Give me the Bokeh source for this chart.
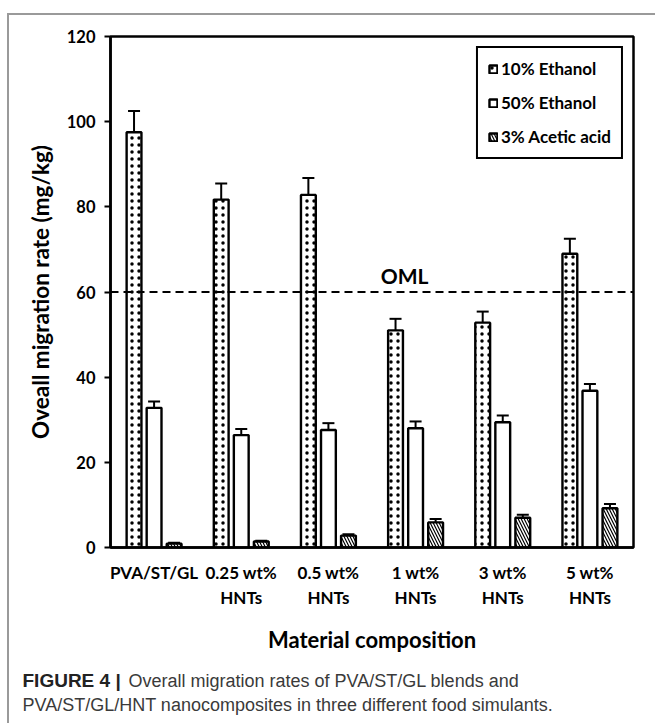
import numpy as np
from bokeh.plotting import figure
from bokeh.layouts import column, row
from bokeh.models import (ColumnDataSource, Range1d, FixedTicker, Whisker, TeeHead,
                          Span, Label, Legend, LegendItem, Div, Spacer)
from bokeh.core.properties import value
from bokeh.embed import file_html
from bokeh.resources import INLINE

# Overall migration (mg/kg) per material and food simulant
groups = ["PVA/ST/GL", "0.25 wt%\nHNTs", "0.5 wt%\nHNTs", "1 wt%\nHNTs", "3 wt%\nHNTs", "5 wt%\nHNTs"]
series = ["10% Ethanol", "50% Ethanol", "3% Acetic acid"]
ethanol10 = [97.5, 81.7, 82.8, 51.0, 52.8, 69.0]
ethanol10_err = [5.0, 3.8, 4.0, 2.7, 2.6, 3.5]
ethanol50 = [32.8, 26.4, 27.6, 28.0, 29.4, 36.8]
ethanol50_err = [1.5, 1.4, 1.6, 1.6, 1.6, 1.6]
acetic3 = [0.9, 1.4, 2.8, 5.9, 7.0, 9.2]
acetic3_err = [0.2, 0.2, 0.3, 0.8, 0.7, 1.0]
oml_limit = 60
y_ticks = [0, 20, 40, 60, 80, 100, 120]

caption_head = "FIGURE 4 |"
caption_line1 = "Overall migration rates of PVA/ST/GL blends and"
caption_line2 = "PVA/ST/GL/HNT nanocomposites in three different food simulants."

FONT = "Lato"
CAPTION_FONT = "Liberation Sans"
FRAME_GREY = "#9a9a9a"

# page layout (pixels)
W, H = 655, 723
GAP_X, GAP_Y = 7, 13          # white margin outside the grey frame
RULE = 2                      # grey frame thickness
PAD_X, PAD_Y = GAP_X + RULE, GAP_Y + RULE
CAP_H = 63                    # caption band at the bottom
MAIN_W, MAIN_H = W - PAD_X, H - PAD_Y - CAP_H

# ---- main chart -------------------------------------------------------------
centers = np.arange(len(groups)) + 0.5
offsets = [-0.23, 0.0, 0.23]
bar_width = 0.17
hatches = ["dot", " ", "left_diagonal_line"]
hatch_scales = [7, 1, 6]
hatch_weights = [1.0, 1, 1.2]
values = [ethanol10, ethanol50, acetic3]
errors = [ethanol10_err, ethanol50_err, acetic3_err]

p = figure(width=MAIN_W, height=MAIN_H, output_backend="svg", toolbar_location=None,
           x_range=Range1d(0, len(groups)), y_range=Range1d(y_ticks[0], y_ticks[-1]),
           min_border_left=110 - PAD_X, min_border_right=22,
           min_border_top=36 - PAD_Y, min_border_bottom=MAIN_H - (547 - PAD_Y),
           background_fill_color="white", border_fill_color="white")
p.grid.visible = False
p.outline_line_color = "black"
p.outline_line_width = 2.5

legend_items = []
bar_renderers = []
for name, vals, errs, off, hatch, hs, hw in zip(series, values, errors, offsets,
                                                hatches, hatch_scales, hatch_weights):
    src = ColumnDataSource(dict(
        x=centers + off,
        top=vals,
        upper=np.array(vals) + np.array(errs),
        lower=np.array(vals) - np.array(errs),
    ))
    r = p.vbar(x="x", top="top", width=bar_width, bottom=0, source=src,
               fill_color="white", line_color="black", line_width=2.4,
               hatch_pattern=hatch, hatch_color="black", hatch_scale=hs,
               hatch_weight=hw)
    bar_renderers.append((r, src))
    legend_items.append(LegendItem(label=name, renderers=[r]))

# OML reference line
p.add_layout(Span(location=oml_limit, dimension="width", line_color="black",
                  line_width=2, line_dash="8 5"))
p.add_layout(Label(x=3.1, y=oml_limit, text="OML", text_font=FONT, text_font_style="bold",
                   text_font_size="21px", text_color="black", y_offset=4,
                   text_baseline="bottom", text_align="left"))

# Error bars
for r, src in bar_renderers:
    p.add_layout(Whisker(source=src, base="x", upper="upper", lower="lower",
                         line_color="black", line_width=2,
                         upper_head=TeeHead(size=12, line_width=2, line_color="black"),
                         lower_head=TeeHead(size=12, line_width=2, line_color="black")))

legend = Legend(items=legend_items, location="top_right", margin=10, padding=10,
                spacing=13, glyph_width=10, glyph_height=10, label_standoff=3,
                label_height=20,
                label_text_font=FONT, label_text_font_style="bold",
                label_text_font_size="17px", label_text_color="black",
                border_line_color="black", border_line_width=2.2, border_line_alpha=1,
                background_fill_color="white")
p.add_layout(legend)

# Axes
yax = p.yaxis[0]
yax.ticker = FixedTicker(ticks=y_ticks)
yax.axis_label = "Oveall migration rate (mg/kg)"
yax.axis_label_text_font = FONT
yax.axis_label_text_font_style = "bold"
yax.axis_label_text_font_size = "22.5px"
yax.axis_label_text_color = "black"
yax.axis_label_standoff = 10
yax.major_label_text_font = FONT
yax.major_label_text_font_style = "bold"
yax.major_label_text_font_size = "16.5px"
yax.major_label_text_color = "black"
yax.major_label_standoff = 9
yax.axis_line_width = 2.5
yax.major_tick_line_width = 2
yax.major_tick_out = 6
yax.major_tick_in = 0
yax.minor_tick_line_color = None

xax = p.xaxis[0]
xax.ticker = FixedTicker(ticks=list(centers))
xax.major_label_overrides = {float(c): g for c, g in zip(centers, groups)}
xax.axis_label = "Material composition"
xax.axis_label_text_font = FONT
xax.axis_label_text_font_style = "bold"
xax.axis_label_text_font_size = "22px"
xax.axis_label_text_color = "black"
xax.axis_label_standoff = 15
xax.major_label_text_font = FONT
xax.major_label_text_font_style = "bold"
xax.major_label_text_font_size = "17px"
xax.major_label_text_color = "black"
xax.major_label_standoff = 14
xax.axis_line_width = 2.5
xax.major_tick_out = 0
xax.major_tick_in = 0
xax.minor_tick_line_color = None

# ---- caption band -------------------------------------------------------------
cap = figure(width=MAIN_W, height=CAP_H, output_backend="svg", toolbar_location=None,
             x_range=Range1d(PAD_X, W), y_range=Range1d(H, H - CAP_H),
             x_axis_type=None, y_axis_type=None, min_border=0,
             background_fill_color="white", border_fill_color="white")
cap.outline_line_color = None
cap.grid.visible = False
cap.text(x=[22], y=[680], text=[caption_head], text_font=value(CAPTION_FONT),
         text_font_style="bold", text_font_size="19px", text_color="#222222",
         text_baseline="middle", text_align="left")
cap.text(x=[128], y=[680], text=[caption_line1], text_font=value(CAPTION_FONT),
         text_font_size="18px", text_color="#3a3a3a",
         text_baseline="middle", text_align="left")
cap.text(x=[22], y=[704], text=[caption_line2], text_font=value(CAPTION_FONT),
         text_font_size="18px", text_color="#3a3a3a",
         text_baseline="middle", text_align="left")

# ---- grey figure frame (open at right and bottom) ----------------------------
def rule(w, h):
    return Div(text="", width=w, height=h, margin=0,
               styles={"background-color": FRAME_GREY})


top_rule = row(Spacer(width=GAP_X, height=RULE, margin=0), rule(W - GAP_X, RULE),
               spacing=0, margin=0)
# chart and caption sit in separate containers so their frames stay independent
chart_box = row(p, spacing=0, margin=0)
caption_box = row(cap, spacing=0, margin=0)
body = row(Spacer(width=GAP_X, height=H - PAD_Y, margin=0), rule(RULE, H - PAD_Y),
           column(chart_box, caption_box, spacing=0, margin=0), spacing=0, margin=0)
page = column(Spacer(width=W, height=GAP_Y, margin=0), top_rule, body, spacing=0, margin=0)

open("out.html", "w").write(file_html(page, INLINE))
